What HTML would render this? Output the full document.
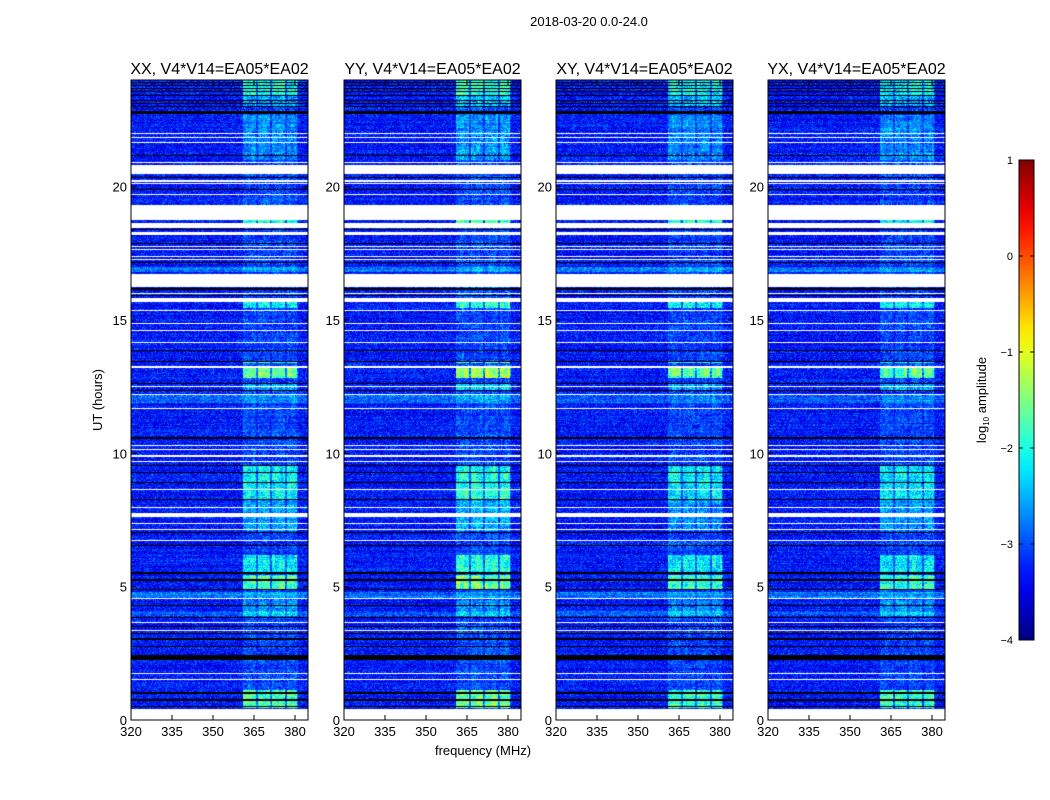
<!DOCTYPE html>
<html><head><meta charset="utf-8">
<style>
body{margin:0;background:#fff;}
#wrap{position:relative;width:1050px;height:800px;overflow:hidden;background:#fff;font-family:"Liberation Sans","DejaVu Sans",sans-serif;}
canvas{position:absolute;}
svg{position:absolute;left:0;top:0;}
</style></head>
<body>
<div id="wrap">
<svg id="axes" width="1050" height="800"></svg>
</div>
<script>
// ---- data ----
const panelNames = ["XX, V4*V14=EA05*EA02","YY, V4*V14=EA05*EA02","XY, V4*V14=EA05*EA02","YX, V4*V14=EA05*EA02"];
const panelGain = [1.0, 1.15, 0.95, 0.95];
const xTicks = [320,335,350,365,380];
const yTicks = [0,5,10,15,20];
const cbTicks = [1,0,-1,-2,-3,-4];
const subbands = [[361,365.7],[366.3,370.9],[371.5,376.3],[376.9,380.7]];
const whiteRows = [[21.96,22.01],[21.81,21.86],[21.62,21.68],[20.89,20.93],[20.48,20.81],[20.18,20.25],[20.10,20.14],[19.67,19.73],[18.75,19.31],[18.45,18.64],[18.19,18.30],[17.74,17.78],[17.63,17.66],[17.36,17.40],[17.25,17.29],[16.24,16.72],[15.98,16.01],[15.67,15.82],[15.34,15.38],[14.85,14.89],[14.59,14.62],[14.14,14.18],[13.20,13.27],[12.49,12.52],[12.19,12.22],[11.66,11.70],[10.28,10.31],[10.12,10.16],[9.86,9.94],[9.67,9.71],[8.62,8.66],[7.95,7.99],[7.61,7.76],[7.35,7.39],[7.12,7.16],[6.71,6.75],[4.54,4.58],[3.64,3.68],[3.34,3.37],[1.73,1.76],[1.50,1.54],[0,0.41]];
const blackRows = [[23.89,23.93],[23.78,23.81],[23.66,23.70],[23.55,23.59],[23.40,23.44],[23.21,23.25],[23.10,23.14],[22.99,23.03],[22.73,22.84],[21.16,21.20],[20.33,20.37],[19.88,19.91],[18.38,18.41],[17.85,17.89],[17.14,17.18],[16.12,16.20],[15.90,15.94],[13.84,13.88],[13.42,13.46],[12.60,12.64],[12.34,12.38],[10.54,10.61],[9.52,9.56],[9.26,9.30],[8.89,8.93],[8.25,8.29],[7.01,7.05],[6.52,6.56],[5.47,5.55],[5.23,5.27],[4.86,4.90],[4.29,4.33],[3.84,3.88],[3.47,3.51],[3.24,3.28],[3.00,3.08],[2.72,2.76],[2.25,2.44],[0.98,1.05],[0.73,0.77],[0.47,0.51]];
const brightStart = [23.4,23.0,21.0,18.64,15.45,13.38,12.82,12.38,8.25,7.1,5.55,4.9,3.9,0.45];
const brightEnd   = [24.0,23.4,22.7,18.75,15.67,13.42,13.20,12.60,9.56,8.25,6.18,5.44,4.5,1.12];
const brightLevel = [1.1,0.6,0.4,1.2,1.1,1.4,1.6,0.6,1.0,0.5,1.0,1.4,0.4,1.4];
const rowShiftStart = [4.58,11.9,16.8,3.9];
const rowShiftEnd   = [4.8,12.2,17.0,4.1];
const rowShiftLevel = [0.5,0.4,0.5,0.3];
const baseLevel = -3.3;
const subbandBase = 0.25;

// ---- geometry ----
const panelLeft = [131,344,556,768];
const PW = 177, PT = 80, PH = 640;
const fMin = 320, fMax = 320 + 177/ (41/15);
const xS = f => (f - fMin) / (fMax - fMin) * PW;
const yS = h => PH - h / 24 * PH;
const cbY = v => 160 + (1 - v) / 5 * 480;

function jet(v){
  let t = Math.max(0, Math.min(1, (v + 4) / 5));
  const c = x => Math.round(255 * Math.max(0, Math.min(1, x)));
  return [c(1.5 - Math.abs(4*t - 3)), c(1.5 - Math.abs(4*t - 2)), c(1.5 - Math.abs(4*t - 1))];
}
function hash(a,b,c){
  let h = (a*374761393 + b*668265263 + c*2147483647) | 0;
  h = (h ^ (h >>> 13)) * 1274126177 | 0;
  return ((h ^ (h >>> 16)) >>> 0) / 4294967296;
}
function inList(h, list){ for (const r of list) if (h >= r[0] && h < r[1]) return true; return false; }

const wrap = document.getElementById('wrap');
const svg = document.getElementById('axes');
const NS = "http://www.w3.org/2000/svg";
function mk(tag, attrs, text){
  const e = document.createElementNS(NS, tag);
  for (const k in attrs) e.setAttribute(k, attrs[k]);
  if (text !== undefined) e.textContent = text;
  svg.appendChild(e); return e;
}

const dh = 24 / PH;
const df = (fMax - fMin) / PW;
panelNames.forEach((name, p) => {
  const cv = document.createElement('canvas');
  cv.width = PW; cv.height = PH;
  cv.style.left = panelLeft[p] + 'px'; cv.style.top = PT + 'px';
  
  
  wrap.insertBefore(cv, svg);
  const ctx = cv.getContext('2d');
  const img = ctx.createImageData(PW, PH);
  for (let j = 0; j < PH; j++){
    const h = 24 - (j + 0.5) * dh;
    const isW = inList(h, whiteRows), isK = inList(h, blackRows);
    let boost = 0;
    for (let k = 0; k < brightStart.length; k++) if (h >= brightStart[k] && h < brightEnd[k]) boost = Math.max(boost, brightLevel[k]);
    let shift = 0;
    for (let k = 0; k < rowShiftStart.length; k++) if (h >= rowShiftStart[k] && h < rowShiftEnd[k]) shift = rowShiftLevel[k];
    const rowN = hash(p, j, 7) * 0.3 - 0.15;
    for (let i = 0; i < PW; i++){
      const f = fMin + (i + 0.5) * df;
      let rgb;
      if (isW) rgb = [255,255,255];
      else if (isK) rgb = [0,0,0];
      else {
        let v = baseLevel + shift + rowN + (hash(i, j, p+1) - 0.5) * 0.9;
        let sb = false;
        for (const s of subbands) if (f >= s[0] && f < s[1]) sb = true;
        const patch = hash(i>>2, j>>3, p+9);
        if (sb) v += (subbandBase * (0.5 + patch) + boost * (0.8 + 0.2*patch)) * panelGain[p];
        else if (f > 361 && f < 381) v += 0.1 + boost * 0.3;
        rgb = jet(v);
      }
      const o = (j * PW + i) * 4;
      img.data[o] = rgb[0]; img.data[o+1] = rgb[1]; img.data[o+2] = rgb[2]; img.data[o+3] = 255;
    }
  }
  ctx.putImageData(img, 0, 0);

  const L = panelLeft[p];
  mk('rect', {x: L, y: PT, width: PW, height: PH, fill: 'none', stroke: '#000', 'stroke-width': 1,  });
  mk('text', {x: L + PW/2, y: 74, 'text-anchor': 'middle', 'font-size': 16, fill: '#000',  }, name);
  xTicks.forEach(t => {
    const x = L + xS(t);
    mk('line', {x1: x, y1: PT+PH, x2: x, y2: PT+PH-5, stroke: '#000',  });
    mk('line', {x1: x, y1: PT, x2: x, y2: PT+5, stroke: '#000',  });
    mk('text', {x: x, y: 736, 'text-anchor': 'middle', 'font-size': 13,  }, String(t));
  });
  yTicks.forEach(t => {
    const y = PT + yS(t);
    mk('line', {x1: L, y1: y, x2: L+5, y2: y, stroke: '#000',  });
    mk('line', {x1: L+PW, y1: y, x2: L+PW-5, y2: y, stroke: '#000',  });
    mk('text', {x: L - 4, y: y + 5, 'text-anchor': 'end', 'font-size': 13,  }, String(t));
  });
});

mk('text', {x: 589, y: 26, 'text-anchor': 'middle', 'font-size': 13,  }, '2018-03-20 0.0-24.0');
mk('text', {x: 483, y: 755, 'text-anchor': 'middle', 'font-size': 13,  }, 'frequency (MHz)');
mk('text', {x: 102, y: 400, 'text-anchor': 'middle', 'font-size': 13, transform: 'rotate(-90 102 400)',  }, 'UT (hours)');

// colorbar
const defs = mk('defs', {});
const grad = document.createElementNS(NS, 'linearGradient');
grad.setAttribute('id', 'jetg'); grad.setAttribute('x1', '0'); grad.setAttribute('y1', '1'); grad.setAttribute('x2', '0'); grad.setAttribute('y2', '0');
for (let k = 0; k <= 20; k++){
  const v = -4 + k * 0.25, c = jet(v);
  const s = document.createElementNS(NS, 'stop');
  s.setAttribute('offset', (k/20).toFixed(3)); s.setAttribute('stop-color', `rgb(${c[0]},${c[1]},${c[2]})`);
  grad.appendChild(s);
}
defs.appendChild(grad);
mk('rect', {x: 1019, y: 160, width: 15, height: 480, fill: 'url(#jetg)', stroke: '#000', 'stroke-width': 1,  });
cbTicks.forEach(t => {
  const y = cbY(t);
  mk('line', {x1: 1019, y1: y, x2: 1023, y2: y, stroke: '#000',  });
  mk('line', {x1: 1034, y1: y, x2: 1030, y2: y, stroke: '#000',  });
  mk('text', {x: 1013, y: y + 4, 'text-anchor': 'end', 'font-size': 11,  }, t < 0 ? '\u2212' + Math.abs(t) : String(t));
});
const cl = mk('text', {x: 986, y: 400, 'text-anchor': 'middle', 'font-size': 13, transform: 'rotate(-90 986 400)',  });
cl.innerHTML = 'log<tspan font-size="8" dy="3">10</tspan><tspan dy="-3"> amplitude</tspan>';
</script>
</body></html>
